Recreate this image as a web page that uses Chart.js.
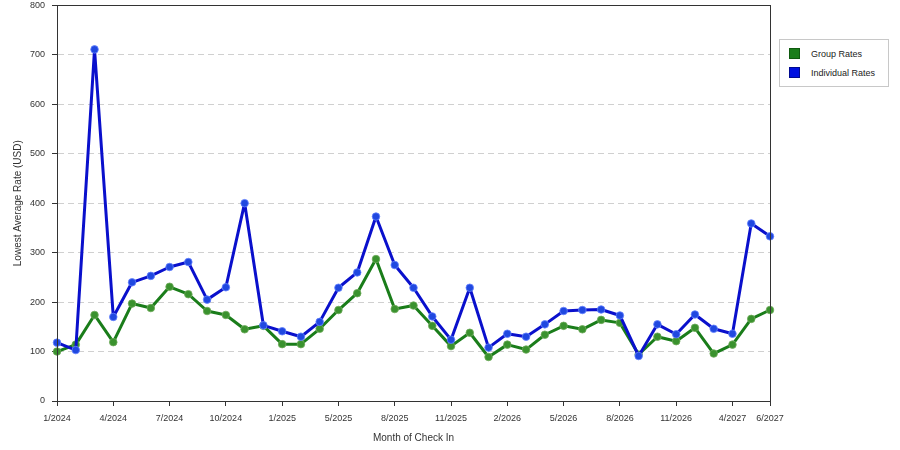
<!DOCTYPE html>
<html>
<head>
<meta charset="utf-8">
<script src="https://cdn.jsdelivr.net/npm/chart.js@4"></script>
<style>
  html, body { margin: 0; padding: 0; background: #fff; }
  #wrap { position: relative; width: 900px; height: 450px; }
  #legend { position: absolute; left: 779px; top: 39px; width: 108px; height: 46px; border: 1px solid #c8c8c8; background: #fff;
            font-family: "Liberation Sans", Arial, sans-serif; font-size: 9px; color: #222; }
  .item { position: absolute; left: 9px; height: 12px; line-height: 12px; }
  .sw { position: absolute; left: 0; top: 0; width: 11px; height: 11px; box-sizing: border-box; }
  .lbl { position: absolute; left: 22px; top: 0; white-space: nowrap; }
</style>
</head>
<body>
<div id="wrap">
  <canvas id="c" width="900" height="450"></canvas>
  <div id="legend">
    <div class="item" style="top:8px"><span class="sw" style="background:#1a7d1a;border:1px solid #0f5a0f"></span><span class="lbl">Group Rates</span></div>
    <div class="item" style="top:27px"><span class="sw" style="background:#0010e0;border:1px solid #000a90"></span><span class="lbl">Individual Rates</span></div>
  </div>
</div>
<script>
const months = ['1/2024','2/2024','3/2024','4/2024','5/2024','6/2024','7/2024','8/2024','9/2024','10/2024','11/2024','12/2024',
  '1/2025','3/2025','4/2025','5/2025','6/2025','7/2025','8/2025','9/2025','10/2025','11/2025','12/2025',
  '1/2026','2/2026','3/2026','4/2026','5/2026','6/2026','7/2026','8/2026','9/2026','10/2026','11/2026','12/2026',
  '2/2027','4/2027','5/2027','6/2027'];
const tickLabels = ['1/2024','4/2024','7/2024','10/2024','1/2025','5/2025','8/2025','11/2025','2/2026','5/2026','8/2026','11/2026','4/2027','6/2027'];
const groupRates = [100,114,174,119,197,188,231,216,182,174,145,152,115,115,146,184,218,287,186,193,152,111,138,89,114,104,134,152,145,164,158,94,130,121,148,96,114,166,184];
const individualRates = [118,103,711,170,240,253,271,281,205,230,400,153,141,130,160,229,260,373,275,229,171,124,229,108,136,130,155,182,184,185,173,91,155,135,175,146,136,359,333];
const yTicks = { min: 0, max: 800, step: 100 };

const FONT = "'Liberation Sans', Arial, sans-serif";
const TXT = '#333';

const frame = {
  id: 'frame',
  afterDraw(chart) {
    const { ctx, chartArea: a } = chart;
    ctx.save();
    ctx.strokeStyle = '#333';
    ctx.lineWidth = 1;
    ctx.strokeRect(Math.round(a.left) + 0.5, Math.round(a.top) + 0.5, Math.round(a.right - a.left), Math.round(a.bottom - a.top));
    ctx.restore();
  }
};

new Chart(document.getElementById('c'), {
  type: 'line',
  data: {
    labels: months,
    datasets: [
      {
        label: 'Group Rates', data: groupRates, order: 1,
        borderColor: '#1a7d1a', borderWidth: 3, tension: 0, borderJoinStyle: 'round', borderCapStyle: 'round',
        pointRadius: 3.8, pointBackgroundColor: '#3a922e', pointBorderColor: 'rgba(110,170,90,0.8)', pointBorderWidth: 1
      },
      {
        label: 'Individual Rates', data: individualRates, order: 0,
        borderColor: '#0a10cc', borderWidth: 3, tension: 0, borderJoinStyle: 'round', borderCapStyle: 'round',
        pointRadius: 3.8, pointBackgroundColor: '#2048e0', pointBorderColor: 'rgba(100,130,255,0.8)', pointBorderWidth: 1
      }
    ]
  },
  options: {
    responsive: false,
    animation: false,
    layout: { autoPadding: false, padding: { left: 0, right: 130, top: 0, bottom: 0 } },
    plugins: { legend: { display: false }, tooltip: { enabled: false } },
    scales: {
      x: {
        type: 'category',
        offset: false,
        afterFit(s) { s.height = 49; },
        border: { display: true, color: '#333', width: 1 },
        grid: {
          drawOnChartArea: false, drawTicks: true, tickLength: 5,
          tickColor: (c) => (tickLabels.includes(months[c.index]) ? '#333' : 'rgba(0,0,0,0)')
        },
        ticks: {
          autoSkip: false, maxRotation: 0, minRotation: 0, padding: 7,
          color: TXT, font: { family: FONT, size: 9 },
          callback(v, i) { const l = months[i]; return tickLabels.includes(l) ? l : ''; }
        },
        title: { display: true, text: 'Month of Check In', color: TXT, font: { family: FONT, size: 10 }, padding: { top: 0, bottom: 6 } }
      },
      y: {
        min: yTicks.min, max: yTicks.max,
        afterFit(s) { s.width = 57; },
        border: { display: true, color: '#333', width: 1, dash: [6, 4] },
        grid: {
          color: (c) => (c.tick && (c.tick.value === yTicks.min || c.tick.value === yTicks.max) ? 'rgba(0,0,0,0)' : '#d0d0d0'),
          lineWidth: 1, drawTicks: true, tickLength: 12, tickColor: '#333', tickBorderDash: [0, 7, 5, 100]
        },
        ticks: { stepSize: yTicks.step, padding: 0, color: TXT, font: { family: FONT, size: 9 } },
        title: { display: true, text: 'Lowest Average Rate (USD)', color: TXT, font: { family: FONT, size: 10 }, padding: { top: 12, bottom: 0 } }
      }
    }
  },
  plugins: [frame]
});
</script>
</body>
</html>
